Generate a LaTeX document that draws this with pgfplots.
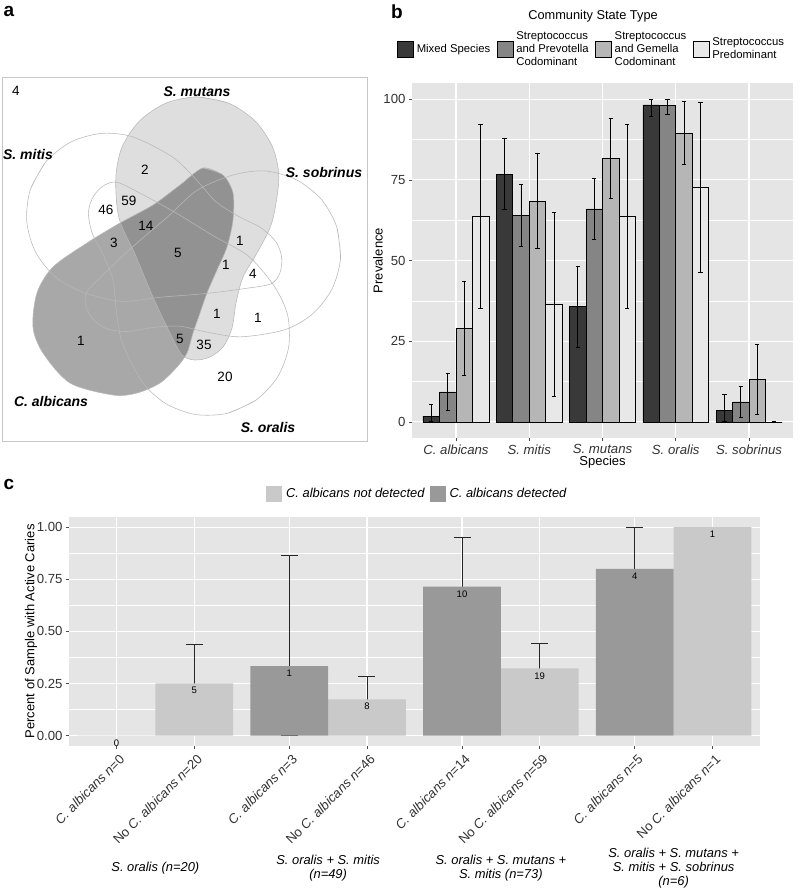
\documentclass[border=0pt]{standalone}
\usepackage{pgfplots}
\pgfplotsset{compat=1.18}
\usepackage{pgfplotstable}
\usepackage{fontspec}
\setmainfont{Liberation Sans}
\definecolor{panelbg}{HTML}{E5E5E5}
\definecolor{cmix}{HTML}{393939}
\definecolor{cprev}{HTML}{858585}
\definecolor{cgem}{HTML}{B6B6B6}
\definecolor{cpred}{HTML}{E8E8E8}
\definecolor{cdet}{HTML}{999999}
\definecolor{cnot}{HTML}{C9C9C9}
\pgfplotstableread{
x mix mixp mixm prev prevp prevm gem gemp gemm pred predp predm
1 1.79 3.47 1.79 9.28 5.77 5.77 28.95 14.42 14.42 63.64 28.43 28.43
2 76.79 11.06 11.06 63.92 9.56 9.56 68.42 14.78 14.78 36.36 28.43 28.43
3 35.71 12.55 12.55 65.98 9.43 9.43 81.58 12.33 12.33 63.64 28.43 28.43
4 98.21 1.79 3.47 97.94 2.06 2.83 89.47 9.76 9.76 72.73 26.32 26.32
5 3.57 4.86 3.57 6.19 4.80 4.80 13.16 10.75 10.75 0 0 0
}\datab
\pgfplotstableread{
x y ep em
1.225 0.25 0.1898 0.1898
2.225 0.1739 0.1095 0.1095
3.225 0.3220 0.1192 0.1192
4.225 1.0 0 0
1.775 0.3333 0.5334 0.3333
2.775 0.7143 0.2367 0.2367
3.775 0.8 0.2 0.3506
}\dataerr
\pgfplotsset{
  berr/.style={error bars/.cd, y dir=both, y explicit,
    error bar style={draw=black, line width=0.85pt},
    error mark options={rotate=90, draw=black, mark size=2.2pt, line width=0.85pt}},
  vennline/.style={draw=black!28, line width=0.55pt, smooth},
}
\begin{document}
\begin{tikzpicture}
\useasboundingbox (0pt,0pt) rectangle (800pt,-891pt);
\node[font=\fontsize{19}{19}\selectfont\bfseries, inner sep=0pt] at (9pt,-11pt) {a};
\node[font=\fontsize{19}{19}\selectfont\bfseries, inner sep=0pt] at (397pt,-12pt) {b};
\node[font=\fontsize{19}{19}\selectfont\bfseries, inner sep=0pt] at (9pt,-484pt) {c};
\node[font=\fontsize{12.8}{13}\selectfont, inner sep=0pt] at (593pt,-16pt) {Community State Type};

% ---------------- panel a : Venn ----------------
\begin{axis}[at={(2pt,-441pt)}, anchor=south west, scale only axis,
  width=365pt, height=364pt, xmin=2, xmax=367, ymin=77, ymax=441,
  y dir=reverse, ticks=none,
  axis line style={draw=black!22, line width=0.7pt}, clip mode=individual]
% S. mutans (filled)
\addplot[draw=none, fill=black, fill opacity=0.13, smooth] coordinates {
(197.3,96.9) (228.5,103.1) (254.9,120.8) (272.6,147.2) (278.8,178.4) (272,222) (257,253)
(243,277) (236,303) (232,328) (223,347) (210,357) (195,360) (182,355) (170,333) (153,297)
(135,254) (119,218) (115.8,178.4) (122.0,147.2) (139.7,120.8) (166.1,103.1) (197.3,96.9) (228.5,103.1)};
% C. albicans (filled)
\addplot[draw=none, fill=black, fill opacity=0.34, smooth] coordinates {
(203,168) (223,175) (233,193) (233,220) (227,247) (217,270) (207,293) (200,313)
(193,333) (187,353) (177,367) (160,383) (137,393) (113,395) (70,383) (43,353)
(33,327) (37,293) (53,267) (87,243) (120,223) (153,205) (180,185) (203,168) (223,175)};
% outlines
\addplot[vennline] coordinates {
(197.3,96.9) (228.5,103.1) (254.9,120.8) (272.6,147.2) (278.8,178.4) (272,222) (257,253)
(243,277) (236,303) (232,328) (223,347) (210,357) (195,360) (182,355) (170,333) (153,297)
(135,254) (119,218) (115.8,178.4) (122.0,147.2) (139.7,120.8) (166.1,103.1) (197.3,96.9) (228.5,103.1)};
\addplot[vennline] coordinates {
(203,168) (223,175) (233,193) (233,220) (227,247) (217,270) (207,293) (200,313)
(193,333) (187,353) (177,367) (160,383) (137,393) (113,395) (70,383) (43,353)
(33,327) (37,293) (53,267) (87,243) (120,223) (153,205) (180,185) (203,168) (223,175)};
% S. sobrinus
\addplot[vennline] coordinates {
(336.8,227.1) (340.5,258.6) (331.9,289.2) (312.2,314.2) (284.5,329.8) (240.9,336.8)
(206.8,332.1) (179.7,326.2) (152.8,327.5) (127.8,331.5) (106.9,328.8) (93.4,319.5)
(85.9,306.2) (86.6,292.3) (103.8,274.0) (132.8,246.7) (168.2,216.3) (197.5,190.0)
(234.1,174.7) (265.7,171.0) (296.3,179.7) (321.3,199.3) (336.8,227.1) (340.5,258.6)};
% S. oralis
\addplot[vennline] coordinates {
(256.2,400.0) (227.3,413.3) (195.5,414.5) (165.7,403.5) (142.3,381.9) (122.2,342.7)
(116.1,308.8) (113.3,281.1) (103.7,256.0) (92.3,233.4) (88.4,212.7) (93.0,197.0)
(103.4,185.8) (116.8,182.2) (139.5,192.9) (174.4,212.0) (214.2,236.3) (248.3,256.0)
(274.2,286.1) (287.6,315.0) (288.7,346.8) (277.8,376.6) (256.2,400.0) (227.3,413.3)};
% S. mitis
\addplot[vennline] coordinates {
(30.4,189.4) (45.9,161.7) (70.9,142.0) (101.5,133.4) (133.1,137.0) (172.5,157.0)
(197.3,180.8) (215.8,201.6) (238.4,216.3) (260.9,227.8) (276.2,242.2) (281.7,257.7)
(279.9,272.9) (271.2,283.7) (246.5,288.3) (207.0,293.4) (160.6,297.2) (121.4,301.3)
(82.7,292.1) (55.0,276.6) (35.3,251.6) (26.7,221.0) (30.4,189.4) (45.9,161.7)};
% counts
\addplot[draw=none, mark=none, nodes near coords, point meta=explicit symbolic,
  every node near coord/.append style={anchor=center, inner sep=0pt,
  font=\fontsize{13.5}{13.5}\selectfont, text=black}] table[meta=l] {
x y l
16 91 4
145 170 2
129 201 59
106 210 46
146 226 14
114 243 3
178 253 5
240 241 1
226 265 1
253 274 4
217 314 1
258 318 1
81 341 1
180 339 5
204 345 35
225 377 20
};
\node[font=\fontsize{14}{14}\selectfont\bfseries\itshape] at (axis cs:197,92) {S. mutans};
\node[font=\fontsize{14}{14}\selectfont\bfseries\itshape] at (axis cs:28,154) {S. mitis};
\node[font=\fontsize{14}{14}\selectfont\bfseries\itshape] at (axis cs:324,172) {S. sobrinus};
\node[font=\fontsize{14}{14}\selectfont\bfseries\itshape] at (axis cs:51,401) {C. albicans};
\node[font=\fontsize{14}{14}\selectfont\bfseries\itshape] at (axis cs:268,427) {S. oralis};
\end{axis}

% ---------------- panel b ----------------
\begin{axis}[at={(412pt,-438pt)}, anchor=south west, scale only axis,
  width=381pt, height=355pt, xmin=0.4, xmax=5.6, ymin=-5, ymax=105,
  ybar=0pt, bar width=0.225,
  axis background/.style={fill=panelbg}, axis line style={draw=none},
  tick pos=left, tick align=outside, major tick length=3pt, minor tick length=0pt,
  tick style={color=black!70, line width=0.6pt},
  xtick={1,2,3,4,5},
  xticklabels={\textit{C. albicans},\textit{S. mitis},\textit{S. mutans},\textit{S. oralis},\textit{S. sobrinus}},
  ytick={0,25,50,75,100}, yticklabels={0,25,50,75,100},
  minor ytick={12.5,37.5,62.5,87.5},
  grid=both, major grid style={white, line width=1.1pt}, minor grid style={white, line width=0.55pt},
  ticklabel style={font=\fontsize{13.2}{13}\selectfont, text=black!80},
  xlabel={Species}, ylabel={Prevalence},
  every axis x label/.style={at={(axis description cs:0.5,-0.0676)}, anchor=center, font=\fontsize{13}{13}\selectfont},
  every axis y label/.style={at={(axis description cs:-0.0892,0.5)}, rotate=90, anchor=center, font=\fontsize{13}{13}\selectfont},
  legend image code/.code={\draw[#1, draw=black, line width=0.6pt] (0pt,-8pt) rectangle (16pt,8pt);},
  legend style={at={(axis description cs:-0.0394,1.0958)}, anchor=west, draw=none, fill=none,
    inner sep=0pt, font=\fontsize{11.3}{13}\selectfont, cells={align=left, anchor=west},
    /tikz/every odd column/.append style={column sep=1pt},
    /tikz/every even column/.append style={column sep=4.5pt}},
  legend columns=4, clip mode=individual]
\addplot[fill=cmix, draw=black, line width=0.6pt, berr]
  table[x=x, y=mix, y error plus=mixp, y error minus=mixm] {\datab};
\addplot[fill=cprev, draw=black, line width=0.6pt, berr]
  table[x=x, y=prev, y error plus=prevp, y error minus=prevm] {\datab};
\addplot[fill=cgem, draw=black, line width=0.6pt, berr]
  table[x=x, y=gem, y error plus=gemp, y error minus=gemm] {\datab};
\addplot[fill=cpred, draw=black, line width=0.6pt, berr]
  table[x=x, y=pred, y error plus=predp, y error minus=predm] {\datab};
\legend{Mixed Species, Streptococcus\\and Prevotella\\Codominant, Streptococcus\\and Gemella\\Codominant, Streptococcus\\Predominant}
\end{axis}

% ---------------- panel c ----------------
\begin{axis}[at={(69pt,-746pt)}, anchor=south west, scale only axis,
  width=691pt, height=229.3pt, xmin=0.5, xmax=4.5, ymin=-0.05, ymax=1.05,
  bar width=0.45,
  axis background/.style={fill=panelbg}, axis line style={draw=none},
  tick pos=left, tick align=outside, major tick length=3pt, minor tick length=0pt,
  tick style={color=black!70, line width=0.6pt},
  xtick={0.775,1.225,1.775,2.225,2.775,3.225,3.775,4.225},
  xticklabels={{\textit{C. albicans n}=0},{No \textit{C. albicans n}=20},{\textit{C. albicans n}=3},{No \textit{C. albicans n}=46},{\textit{C. albicans n}=14},{No \textit{C. albicans n}=59},{\textit{C. albicans n}=5},{No \textit{C. albicans n}=1}},
  xticklabel style={anchor=north east, inner sep=1pt, xshift=2pt, yshift=-3pt, rotate=45},
  ytick={0,0.25,0.5,0.75,1}, yticklabels={0.00,0.25,0.50,0.75,1.00},
  minor ytick={0.125,0.375,0.625,0.875},
  grid=both, major grid style={white, line width=1.1pt}, minor grid style={white, line width=0.55pt},
  ticklabel style={font=\fontsize{13.2}{13}\selectfont, text=black!80},
  ylabel={Percent of Sample with Active Caries},
  every axis y label/.style={at={(axis description cs:-0.055,0.5)}, rotate=90, anchor=center, font=\fontsize{13}{13}\selectfont},
  legend image code/.code={\fill[#1] (0pt,-8pt) rectangle (16pt,8pt);},
  legend style={at={(axis description cs:0.285,1.099)}, anchor=west, draw=none, fill=none,
    inner sep=0pt, font=\fontsize{12.9}{13}\selectfont\itshape,
    /tikz/every odd column/.append style={column sep=2pt},
    /tikz/every even column/.append style={column sep=3pt}},
  legend columns=2, clip mode=individual]
\addplot[draw=none, mark=none, forget plot,
  error bars/.cd, y dir=both, y explicit,
  error bar style={draw=black!85, line width=0.75pt},
  error mark options={rotate=90, draw=black!85, mark size=8.5pt, line width=0.75pt}]
  table[x=x, y=y, y error plus=ep, y error minus=em] {\dataerr};
\addplot[ybar, bar shift=0pt, fill=cnot, draw=none] coordinates {
(1.225,0.25) (2.225,0.1739) (3.225,0.3220) (4.225,1.0)};
\addplot[ybar, bar shift=0pt, fill=cdet, draw=none] coordinates {
(0.775,0) (1.775,0.3333) (2.775,0.7143) (3.775,0.8)};
\legend{C. albicans not detected, C. albicans detected}
\addplot[draw=none, mark=none, forget plot, nodes near coords, point meta=explicit symbolic,
  every node near coord/.append style={anchor=center, inner sep=0pt,
  font=\fontsize{9.5}{9.5}\selectfont, text=black}] table[meta=l] {
x y l
0.775 -0.035 0
1.225 0.215 5
1.775 0.298 1
2.225 0.139 8
2.775 0.679 10
3.225 0.287 19
3.775 0.765 4
4.225 0.965 1
};
\node[font=\fontsize{12.9}{14.2}\selectfont\itshape, align=center] at (axis cs:1,-0.05) [yshift=-122pt] {S. oralis (n=20)};
\node[font=\fontsize{12.9}{14.2}\selectfont\itshape, align=center] at (axis cs:2,-0.05) [yshift=-122pt] {S. oralis + S. mitis\\(n=49)};
\node[font=\fontsize{12.9}{14.2}\selectfont\itshape, align=center] at (axis cs:3,-0.05) [yshift=-122pt] {S. oralis + S. mutans +\\S. mitis (n=73)};
\node[font=\fontsize{12.9}{14.2}\selectfont\itshape, align=center] at (axis cs:4,-0.05) [yshift=-122pt] {S. oralis + S. mutans +\\S. mitis + S. sobrinus\\(n=6)};
\end{axis}
\end{tikzpicture}
\end{document}
